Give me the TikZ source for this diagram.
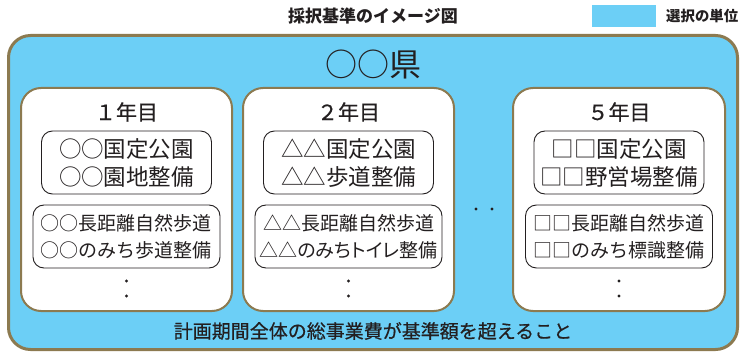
\documentclass[tikz,border=0pt]{standalone}
\usepackage{fontspec}
\newfontfamily\jp{Noto Sans CJK JP}
\newfontfamily\jpm{Noto Sans CJK JP}[FakeBold=0.6]
\newfontfamily\jpp{Noto Sans CJK JP}[RawFeature=+palt]
\definecolor{skyb}{HTML}{6CCFF6}
\definecolor{brn}{HTML}{8C7A50}
\definecolor{ink}{HTML}{231F20}
\tikzset{
  outerbox/.style={draw=brn, line width=3pt, fill=skyb, rounded corners=22pt},
  yearbox/.style={draw=brn, line width=2pt, fill=white, rounded corners=20pt},
  itembox/.style={draw=ink, line width=0.9pt, fill=white, rounded corners=11pt},
  txt/.style={inner sep=0pt, text=ink, font=\jp},
  dotmark/.style={fill=ink, draw=none, circle, inner sep=0pt, minimum size=3.4pt}
}
\begin{document}
\begin{tikzpicture}[x=1pt,y=-1pt]
\useasboundingbox (0,0) rectangle (748,353);
% title and legend
\node[txt, font=\jp\bfseries\fontsize{17}{17}\selectfont] (title) at (373,16) {採択基準のイメージ図};
\node[fill=skyb, inner sep=0pt, minimum width=64pt, minimum height=22pt] (leg) at (624,16) {};
\node[txt, font=\jp\bfseries\fontsize{14.4}{14.4}\selectfont, anchor=west] (legt) at (666,16) {選択の単位};
% outer prefecture box
\node[outerbox, minimum width=729pt, minimum height=314pt] (pref) at (373,192.5) {};
\node[txt, font=\jp\fontsize{32}{32}\selectfont] (preft) at (373,65) {○○県};
% year boxes
\node[yearbox, minimum width=211pt, minimum height=223pt] (y1) at (126.5,199.5) {};
\node[yearbox, minimum width=211pt, minimum height=223pt] (y2) at (348.5,199.5) {};
\node[yearbox, minimum width=212pt, minimum height=223pt] (y5) at (619,199.5) {};
\node[txt, font=\jpm\fontsize{21}{21}\selectfont] (y1t) at (126.5,112) {１年目};
\node[txt, font=\jpm\fontsize{21}{21}\selectfont] (y2t) at (348.5,112) {２年目};
\node[txt, font=\jpm\fontsize{21}{21}\selectfont] (y5t) at (619,112) {５年目};
% item boxes year 1
\node[itembox, minimum width=170pt, minimum height=63pt] (a1) at (126.5,162.5) {};
\node[txt, font=\jp\fontsize{22.5}{22.5}\selectfont] (a1l1) at (126.5,149) {○○国定公園};
\node[txt, font=\jp\fontsize{22.5}{22.5}\selectfont] (a1l2) at (126.5,177) {○○園地整備};
\node[itembox, minimum width=187pt, minimum height=63pt] (b1) at (126.5,236.5) {};
\node[txt, font=\jp\fontsize{19}{19}\selectfont] (b1l1) at (126.5,223) {○○長距離自然歩道};
\node[txt, font=\jp\fontsize{19}{19}\selectfont] (b1l2) at (126.5,250) {○○のみち歩道整備};
% item boxes year 2
\node[itembox, minimum width=170pt, minimum height=63pt] (a2) at (348.5,162.5) {};
\node[txt, font=\jp\fontsize{22.5}{22.5}\selectfont] (a2l1) at (348.5,149) {△△国定公園};
\node[txt, font=\jp\fontsize{22.5}{22.5}\selectfont] (a2l2) at (348.5,177) {△△歩道整備};
\node[itembox, minimum width=187pt, minimum height=63pt] (b2) at (348.5,236.5) {};
\node[txt, font=\jp\fontsize{19}{19}\selectfont] (b2l1) at (348.5,223) {△△長距離自然歩道};
\node[txt, font=\jpp\fontsize{19}{19}\selectfont] (b2l2) at (348.5,250) {△△のみちトイレ整備};
% item boxes year 5
\node[itembox, minimum width=170pt, minimum height=63pt] (a5) at (619,162.5) {};
\node[txt, font=\jp\fontsize{22.5}{22.5}\selectfont] (a5l1) at (619,149) {□□国定公園};
\node[txt, font=\jp\fontsize{22.5}{22.5}\selectfont] (a5l2) at (619,177) {□□野営場整備};
\node[itembox, minimum width=187pt, minimum height=63pt] (b5) at (619,236.5) {};
\node[txt, font=\jp\fontsize{19}{19}\selectfont] (b5l1) at (619,223) {□□長距離自然歩道};
\node[txt, font=\jp\fontsize{19}{19}\selectfont] (b5l2) at (619,250) {□□のみち標識整備};
% dots
\node[dotmark] (d1a) at (126.5,281) {};
\node[dotmark] (d1b) at (126.5,296) {};
\node[dotmark] (d2a) at (348.5,281) {};
\node[dotmark] (d2b) at (348.5,296) {};
\node[dotmark] (d5a) at (619,281) {};
\node[dotmark] (d5b) at (619,296) {};
\node[dotmark] (m1) at (476,209) {};
\node[dotmark] (m2) at (492,209) {};
% bottom text
\node[txt, font=\jpm\fontsize{19}{19}\selectfont] (bottom) at (373,331) {計画期間全体の総事業費が基準額を超えること};
\end{tikzpicture}
\end{document}
